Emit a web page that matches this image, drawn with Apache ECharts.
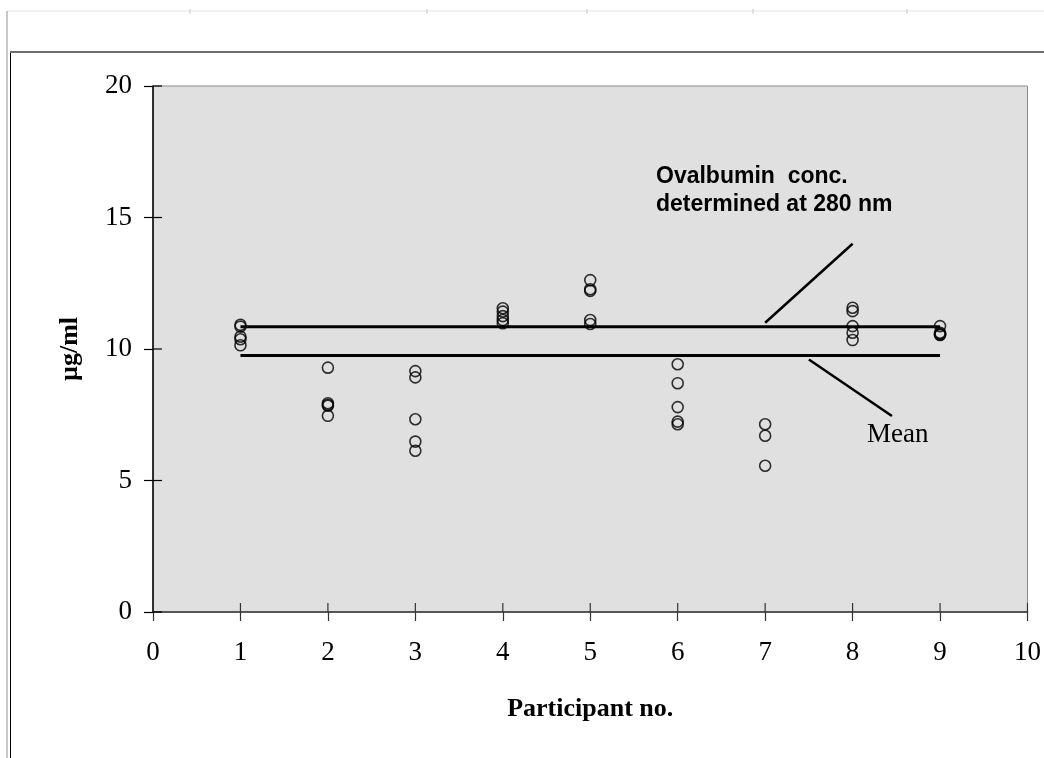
<!DOCTYPE html>
<html>
<head>
<meta charset="utf-8">
<script src="https://cdn.jsdelivr.net/npm/echarts@6/dist/echarts.min.js"></script>
<style>
  html, body { margin: 0; padding: 0; background: #fff; }
  #chart { width: 1044px; height: 758px; }
</style>
</head>
<body>
<div id="chart"></div>
<script>
// Ovalbumin results per participant (µg/ml)
const participants = [1, 2, 3, 4, 5, 6, 7, 8, 9];
const p1 = [10.92, 10.85, 10.47, 10.37, 10.14];
const p2 = [9.29, 7.94, 7.88, 7.84, 7.46];
const p3 = [9.16, 8.92, 7.33, 6.48, 6.13];
const p4 = [11.55, 11.42, 11.25, 11.10, 10.98];
const p5 = [12.62, 12.27, 12.21, 11.10, 10.95];
const p6 = [9.42, 8.70, 7.79, 7.24, 7.14];
const p7 = [7.14, 6.70, 5.56];
const p8 = [11.57, 11.44, 10.87, 10.62, 10.34];
const p9 = [10.87, 10.62, 10.58, 10.55, 10.53];
const results = [p1, p2, p3, p4, p5, p6, p7, p8, p9];

// Reference levels
const conc280 = 10.85;   // ovalbumin conc. determined at 280 nm
const meanValue = 9.75;  // mean of all results

// Pointer lines for the two annotations
const pointer280 = [[7.0, 11.0], [8.0, 14.0]];
const pointerMean = [[7.5, 9.6], [8.45, 7.45]];

// Axis ranges and tick values
const xMin = 0, xMax = 10, xStep = 1;
const yMin = 0, yMax = 20, yStep = 5;
const xTicks = [0, 1, 2, 3, 4, 5, 6, 7, 8, 9, 10];
const yTicks = [0, 5, 10, 15, 20];

const points = [];
participants.forEach((p, i) => results[i].forEach(v => points.push([p, v])));

// inward half of the crossing tick marks
const tickMarks = xTicks.map(v => [v, yMin, 0]).concat(yTicks.map(v => [xMin, v, 1]));

const serif = '"Liberation Serif", "DejaVu Serif", serif';
const sans = '"Liberation Sans", Arial, sans-serif';
const first = participants[0], last = participants[participants.length - 1];

const chart = echarts.init(document.getElementById('chart'), null, { renderer: 'canvas' });

const tickLabel = { fontFamily: serif, fontSize: 27, color: '#000' };

chart.setOption({
  animation: false,
  backgroundColor: '#fff',
  grid: {
    left: 153, right: 13, top: 86, bottom: 146,
    show: true, backgroundColor: '#e0e0e0', borderColor: '#8a8a8a', borderWidth: 1
  },
  xAxis: {
    type: 'value', min: xMin, max: xMax, interval: xStep,
    name: 'Participant no.', nameLocation: 'middle', nameGap: 84,
    nameTextStyle: { fontFamily: serif, fontSize: 26, fontWeight: 'bold', color: '#000' },
    axisLine: { lineStyle: { color: '#333', width: 1.5 } },
    axisTick: { length: 9, lineStyle: { color: '#333', width: 1.2 } },
    axisLabel: Object.assign({ margin: 27 }, tickLabel),
    splitLine: { show: false }
  },
  yAxis: {
    type: 'value', min: yMin, max: yMax, interval: yStep,
    name: 'µg/ml', nameLocation: 'middle', nameGap: 70, nameRotate: 90,
    nameTextStyle: { fontFamily: serif, fontSize: 26, fontWeight: 'bold', color: '#000' },
    axisLine: { show: true, lineStyle: { color: '#000', width: 1.5 } },
    axisTick: { show: true, length: 9, lineStyle: { color: '#000', width: 1.2 } },
    axisLabel: Object.assign({ margin: 21 }, tickLabel),
    splitLine: { show: false }
  },
  series: [
    {
      type: 'custom', data: tickMarks, clip: false, silent: true, z: 5,
      renderItem: function (params, api) {
        const pt = api.coord([api.value(0), api.value(1)]);
        const vertical = api.value(2) === 0;
        return {
          type: 'line',
          shape: vertical
            ? { x1: pt[0], y1: pt[1], x2: pt[0], y2: pt[1] - 9 }
            : { x1: pt[0], y1: pt[1], x2: pt[0] + 9, y2: pt[1] },
          style: { stroke: vertical ? '#333' : '#000', lineWidth: 1.2 }
        };
      }
    },
    {
      type: 'line', data: [[first, conc280], [last, conc280]],
      symbol: 'none', lineStyle: { color: '#000', width: 3 }, z: 3
    },
    {
      type: 'line', data: [[first, meanValue], [last, meanValue]],
      symbol: 'none', lineStyle: { color: '#000', width: 3 }, z: 3
    },
    {
      type: 'line', data: pointer280,
      symbol: 'none', lineStyle: { color: '#000', width: 2.5 }, z: 3
    },
    {
      type: 'line', data: pointerMean,
      symbol: 'none', lineStyle: { color: '#000', width: 2.5 }, z: 3
    },
    {
      type: 'scatter', data: points, symbol: 'circle', symbolSize: 11,
      itemStyle: { color: 'rgba(0,0,0,0)', borderColor: '#000', borderWidth: 1.6 }, z: 4
    }
  ],
  graphic: [
    // page frame
    { type: 'line', shape: { x1: 7, y1: 11, x2: 1044, y2: 11 }, style: { stroke: '#e4e4e4', lineWidth: 1 } },
    ...[190, 427, 587, 753, 907].map(x => ({
      type: 'line', shape: { x1: x, y1: 9, x2: x, y2: 14 }, style: { stroke: '#c8c8c8', lineWidth: 1 }
    })),
    { type: 'line', shape: { x1: 7, y1: 11, x2: 7, y2: 758 }, style: { stroke: '#c8c8c8', lineWidth: 2 } },
    { type: 'line', shape: { x1: 10.5, y1: 52, x2: 10.5, y2: 758 }, style: { stroke: '#000', lineWidth: 1 } },
    { type: 'line', shape: { x1: 10, y1: 52, x2: 1044, y2: 52 }, style: { stroke: '#6e6e6e', lineWidth: 2 } },
    // annotations
    {
      type: 'text', left: 656, top: 163, z: 10,
      style: {
        text: 'Ovalbumin  conc.\ndetermined at 280 nm',
        font: 'bold 23px ' + sans, fill: '#000', lineHeight: 28
      }
    },
    {
      type: 'text', left: 867, top: 421, z: 10,
      style: { text: 'Mean', font: '27px ' + serif, fill: '#000' }
    }
  ]
});
</script>
</body>
</html>
